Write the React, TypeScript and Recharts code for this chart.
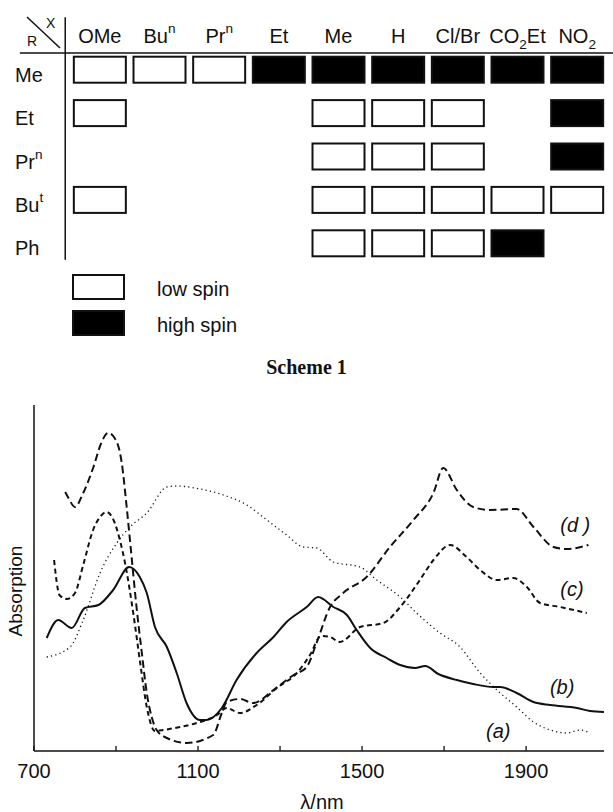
import React from 'react';
import {
  ScatterChart,
  Scatter,
  XAxis,
  YAxis,
  Legend,
  ReferenceLine,
  LineChart,
  Line,
  ReferenceDot,
  Label,
} from 'recharts';

// ---- Scheme 1: spin state table ----
const X_GROUPS = ['OMe', 'Buⁿ', 'Prⁿ', 'Et', 'Me', 'H', 'Cl/Br', 'CO₂Et', 'NO₂'];
const R_GROUPS = ['Me', 'Et', 'Prⁿ', 'Buᵗ', 'Ph'];
const SPIN_STATES = ['low spin', 'high spin'];

const lowSpinCells: [string, string][] = [
  ['OMe', 'Me'], ['Buⁿ', 'Me'], ['Prⁿ', 'Me'],
  ['OMe', 'Et'], ['Me', 'Et'], ['H', 'Et'], ['Cl/Br', 'Et'],
  ['Me', 'Prⁿ'], ['H', 'Prⁿ'], ['Cl/Br', 'Prⁿ'],
  ['OMe', 'Buᵗ'], ['Me', 'Buᵗ'], ['H', 'Buᵗ'], ['Cl/Br', 'Buᵗ'], ['CO₂Et', 'Buᵗ'], ['NO₂', 'Buᵗ'],
  ['Me', 'Ph'], ['H', 'Ph'], ['Cl/Br', 'Ph'],
];
const highSpinCells: [string, string][] = [
  ['Et', 'Me'], ['Me', 'Me'], ['H', 'Me'], ['Cl/Br', 'Me'], ['CO₂Et', 'Me'], ['NO₂', 'Me'],
  ['NO₂', 'Et'], ['NO₂', 'Prⁿ'], ['CO₂Et', 'Ph'],
];

// ---- spectra, wavelength (nm) vs absorption (arb. units) ----
const curveA: [number, number][] = [
  [731, 94], [788, 104], [820, 131], [861, 178], [902, 208], [934, 224], [975, 238],
  [1024, 264], [1048, 265], [1105, 262], [1162, 256], [1219, 246], [1268, 231], [1316, 216],
  [1357, 204], [1389, 203], [1430, 189], [1495, 184], [1536, 171], [1593, 154], [1633, 138],
  [1690, 118], [1739, 104], [1788, 78], [1829, 61], [1877, 44], [1918, 29], [1959, 21],
  [1999, 18], [2032, 21], [2056, 18],
];
const curveB: [number, number][] = [
  [731, 113], [759, 131], [792, 123], [824, 143], [857, 146], [893, 161], [932, 184],
  [958, 174], [975, 158], [995, 124], [1024, 104], [1048, 78], [1072, 48], [1105, 31],
  [1121, 31], [1158, 43], [1194, 71], [1243, 98], [1284, 114], [1316, 129], [1365, 144],
  [1393, 154], [1430, 144], [1463, 136], [1487, 121], [1520, 103], [1560, 93], [1593, 86],
  [1629, 83], [1654, 85], [1686, 77], [1731, 71], [1771, 67], [1820, 64], [1837, 64],
  [1877, 58], [1918, 49], [1959, 46], [2024, 43], [2056, 40], [2090, 39],
];
const curveC: [number, number][] = [
  [749, 191], [755, 170], [762, 156], [780, 152], [800, 158], [820, 186], [845, 222],
  [861, 234], [877, 239], [895, 230], [910, 210], [922, 188], [942, 138], [959, 88],
  [975, 44], [995, 20], [1015, 21], [1056, 24], [1097, 28], [1146, 36], [1170, 43],
  [1202, 38], [1243, 46], [1292, 63], [1341, 78], [1373, 96], [1400, 115], [1422, 114],
  [1446, 109], [1495, 124], [1552, 128], [1593, 144], [1641, 171], [1674, 191], [1715, 206],
  [1755, 194], [1788, 181], [1829, 171], [1869, 173], [1902, 164], [1934, 148], [1983, 144],
  [2048, 138],
];
const curveD: [number, number][] = [
  [776, 259], [784, 253], [800, 244], [820, 258], [845, 284], [865, 309], [881, 318],
  [902, 309], [914, 288], [926, 244], [938, 194], [950, 144], [963, 98], [975, 58],
  [987, 34], [999, 21], [1024, 13], [1072, 8], [1137, 16], [1158, 38], [1170, 49],
  [1202, 52], [1235, 48], [1284, 61], [1333, 76], [1365, 84], [1389, 108], [1422, 144],
  [1454, 158], [1511, 174], [1568, 204], [1625, 231], [1674, 258], [1698, 283], [1731, 261],
  [1771, 244], [1812, 241], [1877, 242], [1918, 224], [1967, 204], [1999, 202], [2052, 206],
];

const LAMBDA_TICKS = [700, 900, 1100, 1300, 1500, 1700, 1900];
const LAMBDA_LABELLED = [700, 1100, 1500, 1900];

const curveLabels = [
  { text: '(d )', x: 2020, y: 226 },
  { text: '(c)', x: 2012, y: 162 },
  { text: '(b)', x: 1988, y: 64 },
  { text: '(a)', x: 1832, y: 20 },
];

const FONT = '"Liberation Sans", Arial, Helvetica, sans-serif';
const INK = '#111';

const toCells = (cells: [string, string][]) =>
  cells.map(([x, r]) => ({ col: X_GROUPS.indexOf(x), row: R_GROUPS.indexOf(r) }));
const toPoints = (pts: [number, number][]) => pts.map(([x, y]) => ({ x, y }));

// splits a label into normal / superscript / subscript runs
const SUP: Record<string, string> = { 'ⁿ': 'n', 'ᵗ': 't' };
const SUB: Record<string, string> = { '₂': '2' };
function richText(label: string, size: number) {
  const runs: { t: string; kind: number }[] = [];
  for (const ch of Array.from(label)) {
    const kind = SUP[ch] ? 1 : SUB[ch] ? -1 : 0;
    const t = SUP[ch] || SUB[ch] || ch;
    const last = runs[runs.length - 1];
    if (last && last.kind === kind) last.t += t;
    else runs.push({ t, kind });
  }
  let cur = 0;
  return runs.map((run, i) => {
    const target = run.kind === 1 ? -0.5 * size : run.kind === -1 ? 0.28 * size : 0;
    const dy = target - cur;
    cur = target;
    return (
      <tspan key={i} dy={dy} fontSize={run.kind === 0 ? size : size * 0.68}>
        {run.t}
      </tspan>
    );
  });
}

const ColumnTick = ({ x, y, payload }: any) => (
  <text x={x} y={y - 5} textAnchor="middle" fontFamily={FONT} fontSize={20} fill={INK}>
    {richText(X_GROUPS[payload.value] ?? '', 20)}
  </text>
);

const RowTick = ({ y, payload }: any) => (
  <text x={15} y={y + 12} textAnchor="start" fontFamily={FONT} fontSize={20} fill={INK}>
    {richText(R_GROUPS[payload.value] ?? '', 20)}
  </text>
);

const CellBox = ({ cx, cy, fill }: any) => (
  <rect x={cx - 26} y={cy - 13} width={52} height={26} fill={fill} stroke={INK} strokeWidth={2} />
);

const SpinLegend = ({ payload }: any) => {
  const items = [...(payload || [])].sort(
    (a: any, b: any) => SPIN_STATES.indexOf(a.value) - SPIN_STATES.indexOf(b.value)
  );
  return (
    <div style={{ position: 'relative', width: 613, height: 80, fontFamily: FONT }}>
      {items.map((entry: any, i: number) => (
        <div key={entry.value} style={{ position: 'absolute', left: 0, top: 9 + i * 36, width: 613, height: 26 }}>
          <div
            style={{
              position: 'absolute',
              left: 72,
              top: 0,
              width: 49,
              height: 22,
              border: `2px solid ${INK}`,
              background: entry.color ?? entry.payload?.fill,
            }}
          />
          <span style={{ position: 'absolute', left: 157, top: 5, fontSize: 20, lineHeight: '20px', color: INK, whiteSpace: 'nowrap' }}>
            {entry.value}
          </span>
        </div>
      ))}
    </div>
  );
};

const WavelengthTick = ({ x, y, payload }: any) => (
  <g>
    <line x1={x} x2={x} y1={y} y2={y - 5} stroke={INK} strokeWidth={1.3} />
    {LAMBDA_LABELLED.includes(payload.value) && (
      <text x={x} y={y + 27} textAnchor="middle" fontFamily={FONT} fontSize={20} fill={INK}>
        {payload.value}
      </text>
    )}
  </g>
);

const CurveLabel = (text: string) => ({ viewBox }: any) => (
  <text
    x={viewBox.x + viewBox.width / 2}
    y={viewBox.y + viewBox.height / 2 + 7}
    textAnchor="middle"
    fontFamily={FONT}
    fontStyle="italic"
    fontSize={20}
    fill={INK}
  >
    {text}
  </text>
);

export default function App() {
  return (
    <div style={{ position: 'absolute', left: 0, top: 0, width: 613, height: 812, background: '#fff', overflow: 'hidden' }}>
      <div style={{ position: 'absolute', left: 0, top: 0 }}>
        <ScatterChart width={613} height={345} margin={{ top: 0, right: 6, bottom: 0, left: 0 }}>
          <XAxis
            xAxisId={0}
            type="number"
            dataKey="col"
            orientation="top"
            domain={[-0.5, 8.5]}
            ticks={[0, 1, 2, 3, 4, 5, 6, 7, 8]}
            interval={0}
            height={48}
            tickSize={0}
            tickMargin={0}
            tickLine={false}
            axisLine={false}
            tick={<ColumnTick />}
          />
          <YAxis
            yAxisId={0}
            type="number"
            dataKey="row"
            domain={[-0.5, 4.5]}
            reversed
            ticks={[0, 1, 2, 3, 4]}
            interval={0}
            width={70}
            tickSize={0}
            tickMargin={0}
            tickLine={false}
            axisLine={false}
            tick={<RowTick />}
          />
          <ReferenceLine
            segment={[{ x: -1.34, y: -0.385 }, { x: 8.6, y: -0.385 }]}
            stroke={INK}
            strokeWidth={1.5}
            ifOverflow="visible"
          />
          <ReferenceLine
            segment={[{ x: -0.58, y: -1.21 }, { x: -0.58, y: 4.38 }]}
            stroke={INK}
            strokeWidth={1.5}
            ifOverflow="visible"
          />
          <Scatter name="low spin" data={toCells(lowSpinCells)} fill="#fff" shape={<CellBox />} isAnimationActive={false} />
          <Scatter name="high spin" data={toCells(highSpinCells)} fill="#000" shape={<CellBox />} isAnimationActive={false} />
          <Legend verticalAlign="bottom" content={<SpinLegend />} wrapperStyle={{ left: 0, bottom: 0, width: 613 }} />
        </ScatterChart>
      </div>

      <svg style={{ position: 'absolute', left: 0, top: 0 }} width={70} height={55}>
        <line x1={27} y1={17} x2={60} y2={48} stroke={INK} strokeWidth={1.5} />
        <text x={27} y={46} fontFamily={FONT} fontSize={14} fill={INK}>R</text>
        <text x={46} y={28} fontFamily={FONT} fontSize={14} fill={INK}>X</text>
      </svg>

      <div
        style={{
          position: 'absolute',
          left: 0,
          width: 613,
          top: 357,
          textAlign: 'center',
          fontFamily: '"Liberation Serif", "Times New Roman", serif',
          fontWeight: 'bold',
          fontSize: 20,
          lineHeight: '20px',
          color: INK,
        }}
      >
        Scheme 1
      </div>

      <div style={{ position: 'absolute', left: 0, top: 380 }}>
        <LineChart width={613} height={432} margin={{ top: 25, right: 9, bottom: 0, left: 0 }}>
          <XAxis
            type="number"
            dataKey="x"
            domain={[700, 2090]}
            ticks={LAMBDA_TICKS}
            interval={0}
            allowDataOverflow
            height={61}
            tickSize={0}
            tickMargin={0}
            tickLine={false}
            axisLine={{ stroke: INK, strokeWidth: 1.5 }}
            tick={<WavelengthTick />}
          >
            <Label
              content={({ viewBox }: any) => (
                <text
                  x={viewBox.x + viewBox.width / 2 + 3}
                  y={viewBox.y + 58}
                  textAnchor="middle"
                  fontFamily={FONT}
                  fontSize={20}
                  fill={INK}
                >
                  λ/nm
                </text>
              )}
            />
          </XAxis>
          <YAxis
            type="number"
            domain={[0, 346]}
            width={34}
            tick={false}
            tickLine={false}
            axisLine={{ stroke: INK, strokeWidth: 1.5 }}
          >
            <Label
              content={({ viewBox }: any) => {
                const cx = 15;
                const cy = viewBox.y + viewBox.height / 2 + 13;
                return (
                  <text
                    x={cx}
                    y={cy}
                    transform={`rotate(-90 ${cx} ${cy})`}
                    textAnchor="middle"
                    dominantBaseline="central"
                    fontFamily={FONT}
                    fontSize={19}
                    fill={INK}
                  >
                    Absorption
                  </text>
                );
              }}
            />
          </YAxis>
          <Line data={toPoints(curveA)} dataKey="y" type="monotone" stroke={INK} strokeWidth={1.3} strokeDasharray="1.2 3.2" dot={false} activeDot={false} isAnimationActive={false} />
          <Line data={toPoints(curveB)} dataKey="y" type="monotone" stroke={INK} strokeWidth={2} dot={false} activeDot={false} isAnimationActive={false} />
          <Line data={toPoints(curveC)} dataKey="y" type="monotone" stroke={INK} strokeWidth={2} strokeDasharray="5 3.5" dot={false} activeDot={false} isAnimationActive={false} />
          <Line data={toPoints(curveD)} dataKey="y" type="monotone" stroke={INK} strokeWidth={2} strokeDasharray="7.5 4" dot={false} activeDot={false} isAnimationActive={false} />
          {curveLabels.map((c) => (
            <ReferenceDot key={c.text} x={c.x} y={c.y} r={1} fill="none" stroke="none" label={{ content: CurveLabel(c.text) }} />
          ))}
        </LineChart>
      </div>
    </div>
  );
}
